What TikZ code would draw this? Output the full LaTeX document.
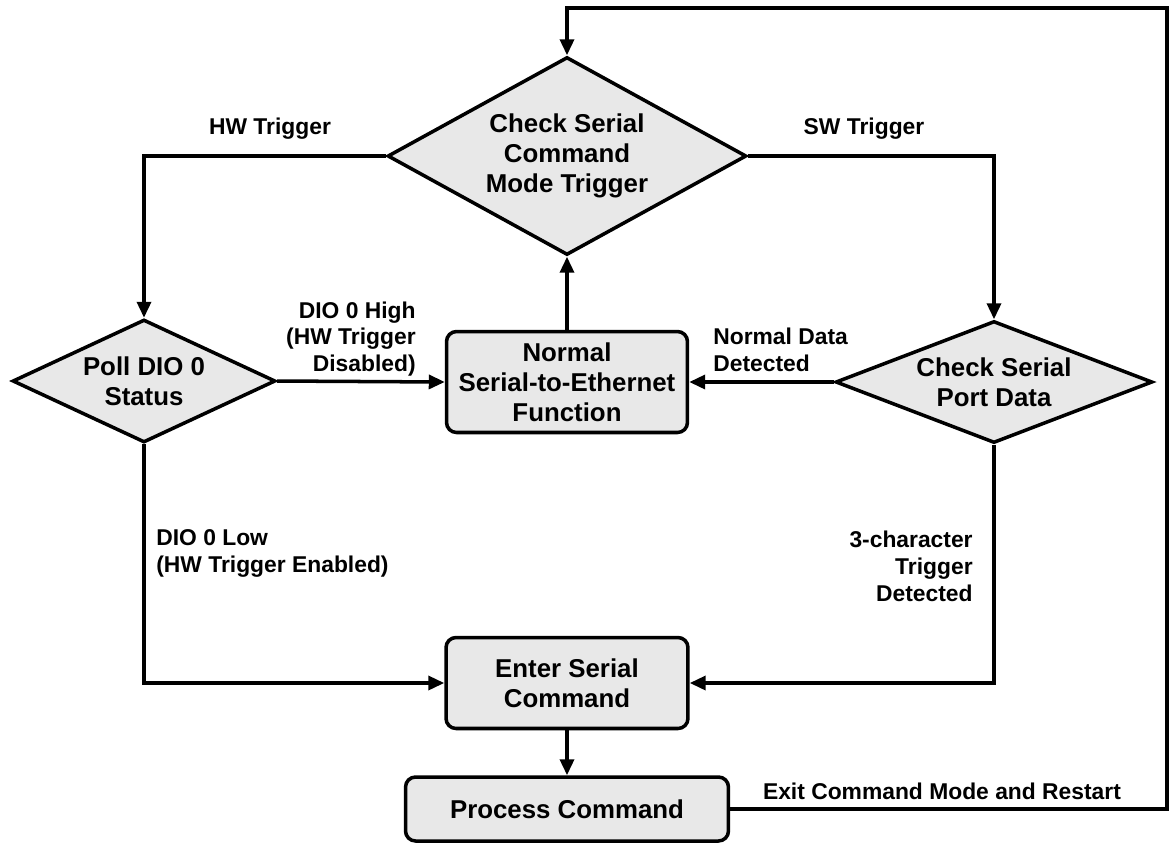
\documentclass[tikz,border=0pt]{standalone}
\usepackage{fontspec}
\setmainfont{Liberation Sans}
\usepackage{xcolor}
\usepackage{tikz}
\usetikzlibrary{arrows.meta, positioning, shapes.geometric}

\begin{document}
\begin{tikzpicture}[
    x=0.02cm, y=-0.02cm,
    box/.style={draw, line width=2pt, fill=stepgray, rounded corners=0.2cm, align=center,
        font=\fontsize{14.7}{17}\selectfont\bfseries},
    decision/.style={draw, line width=2pt, fill=stepgray, diamond, inner sep=0pt, align=center,
        font=\fontsize{14.7}{17}\selectfont\bfseries},
    arrow/.style={-{Triangle[length=0.32cm, width=0.28cm]}, line width=2pt},
    lbl/.style={font=\fontsize{13}{15.3}\selectfont\bfseries, inner sep=0pt}
]

% Colors
\definecolor{stepgray}{RGB}{232,232,232}

\useasboundingbox (0,0) rectangle (1170,843);

% Decisions
\node[decision, aspect=1.81, minimum width=7.18cm, minimum height=3.96cm] (trig) at (567,156)
{Check Serial\\
Command\\
Mode Trigger};

\node[decision, aspect=2.14, minimum width=5.26cm, minimum height=2.46cm] (poll) at (144,381)
{Poll DIO 0\\
Status};

\node[decision, aspect=2.6, minimum width=6.34cm, minimum height=2.44cm] (portdata) at (994,382)
{Check Serial\\
Port Data};

% Boxes
\node[box, minimum width=4.82cm, minimum height=2.02cm] (normal) at (567,382)
{Normal\\
Serial-to-Ethernet\\
Function};

\node[box, minimum width=4.84cm, minimum height=1.82cm] (enter) at (567,683)
{Enter Serial\\
Command};

\node[box, minimum width=6.46cm, minimum height=1.28cm] (process) at (567,809)
{Process Command};

\coordinate (ret) at (1167,8);

% Arrows
\draw[arrow] (trig.west) -| (poll.north);
\draw[arrow] (trig.east) -| (portdata.north);

\draw[arrow] (poll.east) -- (normal.west);
\draw[arrow] (portdata.west) -- (normal.east);
\draw[arrow] (normal.north) -- (trig.south);

\draw[arrow] (poll.south) |- (enter.west);
\draw[arrow] (portdata.south) |- (enter.east);
\draw[arrow] (enter.south) -- (process.north);

\draw[arrow] (process.east) -| (ret) -- (trig.north |- ret) -- (trig.north);

% Labels
\node[lbl] (hwlbl) at (270,129) {HW Trigger};
\node[lbl] (swlbl) at (864,129) {SW Trigger};

\node[lbl, anchor=east, align=right] (highlbl) at (416,339)
{DIO 0 High\\
(HW Trigger\\
Disabled)};

\node[lbl, anchor=west, align=left] (datalbl) at (713,350)
{Normal Data\\
Detected};

\node[lbl, anchor=west, align=left] (lowlbl) at (156,553)
{DIO 0 Low\\
(HW Trigger Enabled)};

\node[lbl, anchor=east, align=right] (charlbl) at (973,566)
{3-character\\
Trigger\\
Detected};

\node[lbl] (exitlbl) at (942,791) {Exit Command Mode and Restart};

\end{tikzpicture}
\end{document}
